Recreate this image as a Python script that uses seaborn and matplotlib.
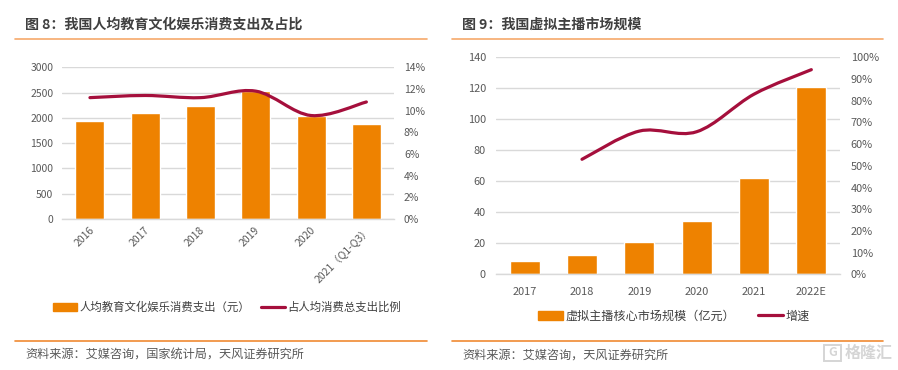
import numpy as np
import pandas as pd
import matplotlib
matplotlib.use("Agg")
import matplotlib.pyplot as plt
import seaborn as sns
from matplotlib.lines import Line2D
from matplotlib.patches import Patch, PathPatch, Rectangle
from matplotlib.path import Path
from matplotlib.transforms import ScaledTranslation

# --- Data ---
years_left = ["2016", "2017", "2018", "2019", "2020", "2021（Q1-Q3）"]
spend = [1930, 2100, 2240, 2530, 2040, 1880]
spend_share = [11.2, 11.4, 11.2, 11.8, 9.55, 10.8]

years_right = ["2017", "2018", "2019", "2020", "2021", "2022E"]
market = [8.6, 12.5, 20.6, 34.2, 62.4, 121]
growth = [53, 66, 65.7, 83, 94.3]  # starts at 2018

sns.set_theme(style="white")
plt.rcParams['font.family'] = ['Noto Sans CJK SC', 'DejaVu Sans']

W, H = 898, 370
ORANGE = "#EE8200"
RED = "#A50F3C"
GRID = "#D9D9D9"
TEXT = "#595959"
DARK = "#404040"


def make_axes(fig, x0, x1, y_top, y_bottom):
    return fig.add_axes([x0 / W, 1 - y_bottom / H, (x1 - x0) / W, (y_bottom - y_top) / H])


def smooth_line(ax, xs, ys):
    # same look as Excel's smoothed line: bezier through the points
    xs = np.asarray(xs, dtype=float)
    ys = np.asarray(ys, dtype=float)
    pts = np.column_stack([xs, ys])
    verts = [pts[0]]
    codes = [Path.MOVETO]
    for i in range(len(pts) - 1):
        p0 = pts[max(i - 1, 0)]
        p1 = pts[i]
        p2 = pts[i + 1]
        p3 = pts[min(i + 2, len(pts) - 1)]
        verts += [p1 + (p2 - p0) / 6, p2 - (p3 - p1) / 6, p2]
        codes += [Path.CURVE4] * 3
    ax.add_patch(PathPatch(Path(verts, codes), fill=False, edgecolor=RED, lw=2.3,
                           capstyle="round", zorder=5))


def style_axes(ax, ax2, size):
    ax.grid(axis="y", color=GRID, lw=1)
    ax.set_axisbelow(True)
    ax.set_xlabel("")
    ax.set_ylabel("")
    ax.patch.set_alpha(0)
    for a in (ax, ax2):
        for s in a.spines.values():
            s.set_visible(False)
        a.tick_params(length=0, labelsize=size, labelcolor=TEXT)
    ax.spines["bottom"].set_visible(True)
    ax.spines["bottom"].set_color(GRID)
    ax.spines["bottom"].set_linewidth(1)
    ax2.grid(False)


fig = plt.figure(figsize=(W / 100, H / 100), dpi=100)

# --- Left chart ---
ax1 = make_axes(fig, 62.3, 394, 67.3, 219)
df_left = pd.DataFrame({"year": years_left, "spend": spend})
sns.barplot(data=df_left, x="year", y="spend", color=ORANGE, saturation=1, width=0.525, ax=ax1)
ax1.set_xlim(-0.5, 5.5)
ax1.set_ylim(0, 3000)
ax1.set_yticks(range(0, 3001, 500))
ax1b = ax1.twinx()
ax1b.set_ylim(0, 14)
ax1b.set_yticks(range(0, 15, 2))
ax1b.set_yticklabels([f"{v}%" for v in range(0, 15, 2)])
smooth_line(ax1b, range(len(spend_share)), spend_share)
style_axes(ax1, ax1b, 7.5)
ax1.tick_params(axis="y", pad=6.5)
ax1b.tick_params(axis="y", pad=7.2)
ax1.tick_params(axis="x", pad=4)
ax1.set_xticks(range(len(years_left)))
ax1.set_xticklabels(years_left, rotation=45, ha="right", rotation_mode="anchor")
for lab in ax1.get_xticklabels():
    lab.set_transform(lab.get_transform() + ScaledTranslation(-1 / 100, 0, fig.dpi_scale_trans))

# --- Right chart ---
ax2 = make_axes(fig, 496, 840, 57.3, 274.3)
df_right = pd.DataFrame({"year": years_right, "market": market})
sns.barplot(data=df_right, x="year", y="market", color=ORANGE, saturation=1, width=0.52, ax=ax2)
ax2.set_xlim(-0.5, 5.5)
ax2.set_ylim(0, 140)
ax2.set_yticks(range(0, 141, 20))
ax2b = ax2.twinx()
ax2b.set_ylim(0, 100)
ax2b.set_yticks(range(0, 101, 10))
ax2b.set_yticklabels([f"{v}%" for v in range(0, 101, 10)])
smooth_line(ax2b, range(1, len(years_right)), growth)
style_axes(ax2, ax2b, 7.9)
ax2.tick_params(axis="y", pad=7.3)
ax2b.tick_params(axis="y", pad=7.7)
ax2.tick_params(axis="x", pad=9)

# --- Legends ---
fig.legend(handles=[Patch(color=ORANGE), Line2D([], [], color=RED, lw=2.3)],
           labels=["人均教育文化娱乐消费支出（元）", "占人均消费总支出比例"],
           ncol=2, frameon=False, fontsize=8.2, labelcolor=DARK,
           loc="center left", bbox_to_anchor=(53 / W, 1 - 307 / H), borderpad=0, borderaxespad=0,
           handlelength=2.1, handletextpad=0.2, columnspacing=1.0)
fig.legend(handles=[Patch(color=ORANGE), Line2D([], [], color=RED, lw=2.3)],
           labels=["虚拟主播核心市场规模（亿元）", "增速"],
           ncol=2, frameon=False, fontsize=8.7, labelcolor=DARK,
           loc="center left", bbox_to_anchor=(538 / W, 1 - 316 / H), borderpad=0, borderaxespad=0,
           handlelength=2.05, handletextpad=0.2, columnspacing=1.9)

# --- Titles, rules, source notes ---
for x0, x1, title, source in [
    (15, 427, "图 8：我国人均教育文化娱乐消费支出及占比", "资料来源：艾媒咨询，国家统计局，天风证券研究所"),
    (452, 883, "图 9：我国虚拟主播市场规模", "资料来源：艾媒咨询，天风证券研究所"),
]:
    fig.add_artist(Line2D([x0 / W, x1 / W], [1 - 39 / H] * 2, color="#F6A96B", lw=1.2))
    fig.add_artist(Line2D([x0 / W, x1 / W], [1 - 340.5 / H] * 2, color="#F08A32", lw=1.2))
    fig.text((x0 + 10) / W, 1 - 25 / H, title, fontsize=10.1, fontweight="bold", color=DARK,
             ha="left", va="center")
    fig.text((x0 + 10) / W, 1 - 355 / H, source, fontsize=8.75, color=TEXT, ha="left", va="center")

# --- Watermark ---
fig.add_artist(Rectangle((824 / W, 1 - 361 / H), 17 / W, 16 / H, fill=False, ec="#D5D5D5", lw=1.4,
                         transform=fig.transFigure))
fig.text(832.5 / W, 1 - 353 / H, "G", fontsize=9, fontweight="bold", color="#D5D5D5", ha="center", va="center")
fig.text(845 / W, 1 - 353 / H, "格隆汇", fontsize=11.5, fontweight="bold", color="#D5D5D5", ha="left", va="center")

fig.savefig("out.png", dpi=100)
